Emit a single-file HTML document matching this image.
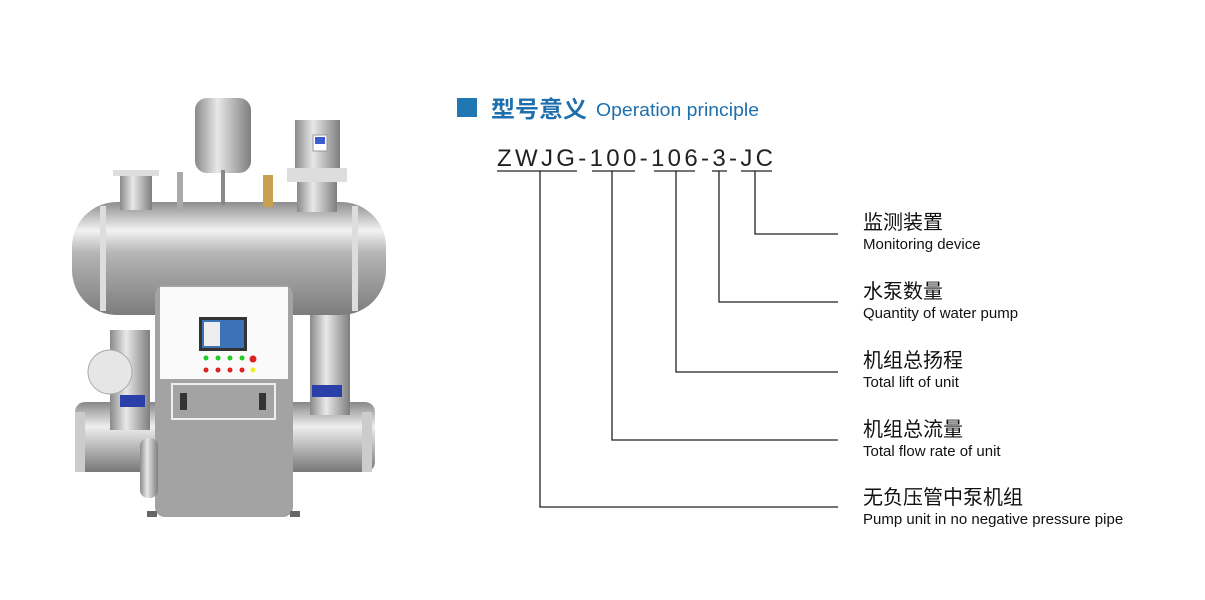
<!DOCTYPE html>
<html><head><meta charset="utf-8"><style>
body{margin:0;background:#fff;width:1205px;height:600px;overflow:hidden}
svg{display:block}
.cn{font-family:"Liberation Sans","Noto Sans CJK SC",sans-serif}
</style></head><body>
<svg width="1205" height="600" viewBox="0 0 1205 600" xmlns="http://www.w3.org/2000/svg">
<defs>
<linearGradient id="tank" x1="0" y1="0" x2="0" y2="1">
<stop offset="0" stop-color="#8e8e8e"/><stop offset="0.25" stop-color="#f2f2f2"/><stop offset="0.45" stop-color="#b5b5b5"/><stop offset="1" stop-color="#7d7d7d"/></linearGradient>
<linearGradient id="cyl" x1="0" y1="0" x2="1" y2="0">
<stop offset="0" stop-color="#8a8a8a"/><stop offset="0.4" stop-color="#e8e8e8"/><stop offset="1" stop-color="#7e7e7e"/></linearGradient>
<linearGradient id="pipe" x1="0" y1="0" x2="0" y2="1">
<stop offset="0" stop-color="#888"/><stop offset="0.35" stop-color="#eee"/><stop offset="1" stop-color="#777"/></linearGradient>
</defs>
<rect x="75" y="402" width="300" height="70" rx="10" fill="url(#pipe)"/>
<rect x="75" y="412" width="10" height="60" fill="#ccc"/><rect x="362" y="412" width="10" height="60" fill="#ccc"/>
<rect x="110" y="330" width="40" height="100" fill="url(#cyl)"/>
<circle cx="110" cy="372" r="22" fill="#e6e6e6" stroke="#aaa"/>
<rect x="310" y="300" width="40" height="115" fill="url(#cyl)"/>
<rect x="312" y="385" width="30" height="12" fill="#2a3fa8"/><rect x="120" y="395" width="25" height="12" fill="#2a3fa8"/>
<rect x="72" y="202" width="314" height="113" rx="45" fill="url(#tank)"/>
<rect x="100" y="206" width="6" height="105" fill="#ddd"/><rect x="352" y="206" width="6" height="105" fill="#ddd"/>
<rect x="120" y="175" width="32" height="35" fill="url(#cyl)"/><rect x="113" y="170" width="46" height="6" fill="#ddd"/>
<rect x="177" y="172" width="6" height="40" fill="#aaa"/>
<rect x="195" y="98" width="56" height="75" rx="12" fill="url(#cyl)"/>
<rect x="221" y="170" width="4" height="35" fill="#888"/>
<rect x="263" y="175" width="10" height="32" fill="#c9a050"/>
<rect x="295" y="120" width="45" height="48" fill="url(#cyl)"/><rect x="313" y="135" width="14" height="16" fill="#fff" stroke="#999"/><rect x="315" y="137" width="10" height="7" fill="#3b5bd0"/>
<rect x="287" y="168" width="60" height="14" fill="#ddd"/><rect x="297" y="182" width="40" height="30" fill="url(#cyl)"/>
<rect x="155" y="285" width="138" height="232" rx="10" fill="#a3a3a3"/>
<rect x="160" y="287" width="128" height="92" fill="#fafafa"/>
<rect x="199" y="317" width="48" height="34" fill="#333"/><rect x="202" y="320" width="42" height="28" fill="#3b72b8"/><rect x="204" y="322" width="16" height="24" fill="#eee"/>
<g fill="#2c2"><circle cx="206" cy="358" r="2.5"/><circle cx="218" cy="358" r="2.5"/><circle cx="230" cy="358" r="2.5"/><circle cx="242" cy="358" r="2.5"/></g>
<g fill="#d22"><circle cx="206" cy="370" r="2.5"/><circle cx="218" cy="370" r="2.5"/><circle cx="230" cy="370" r="2.5"/><circle cx="242" cy="370" r="2.5"/><circle cx="253" cy="359" r="3.5"/></g>
<circle cx="253" cy="370" r="2.5" fill="#ee2"/>
<rect x="172" y="384" width="103" height="35" fill="none" stroke="#eee" stroke-width="2"/>
<rect x="180" y="393" width="7" height="17" fill="#333"/><rect x="259" y="393" width="7" height="17" fill="#333"/>
<rect x="140" y="438" width="18" height="60" rx="8" fill="url(#cyl)"/>
<rect x="147" y="511" width="10" height="6" fill="#666"/><rect x="290" y="511" width="10" height="6" fill="#666"/>
<rect x="457" y="98" width="20" height="19" fill="#1f77b4"/>
<text x="491" y="117" class="cn" font-size="23" font-weight="bold" fill="#1f6fad" textLength="96" lengthAdjust="spacingAndGlyphs">型号意义</text>
<text x="596" y="116" font-family="Liberation Sans,sans-serif" font-size="18" fill="#1f6fad" textLength="163" lengthAdjust="spacingAndGlyphs">Operation principle</text>
<text x="497" y="166" font-family="Liberation Sans,sans-serif" font-size="24" fill="#222" textLength="276" lengthAdjust="spacing">ZWJG-100-106-3-JC</text>
<g stroke="#222" stroke-width="1.3" fill="none">
<path d="M497 171H577M592 171H635M654 171H695M712 171H727M741 171H772"/>
<path d="M540 171V507H838M612 171V440H838M676 171V372H838M719 171V302H838M755 171V234H838"/>
</g>
<g class="cn" fill="#111">
<text x="863" y="229" font-size="20">监测装置</text><text x="863" y="249" font-size="15">Monitoring device</text>
<text x="863" y="298" font-size="20">水泵数量</text><text x="863" y="318" font-size="15">Quantity of water pump</text>
<text x="863" y="367" font-size="20">机组总扬程</text><text x="863" y="387" font-size="15">Total lift of unit</text>
<text x="863" y="436" font-size="20">机组总流量</text><text x="863" y="456" font-size="15">Total flow rate of unit</text>
<text x="863" y="504" font-size="20">无负压管中泵机组</text><text x="863" y="524" font-size="15">Pump unit in no negative pressure pipe</text>
</g>
</svg>
</body></html>
